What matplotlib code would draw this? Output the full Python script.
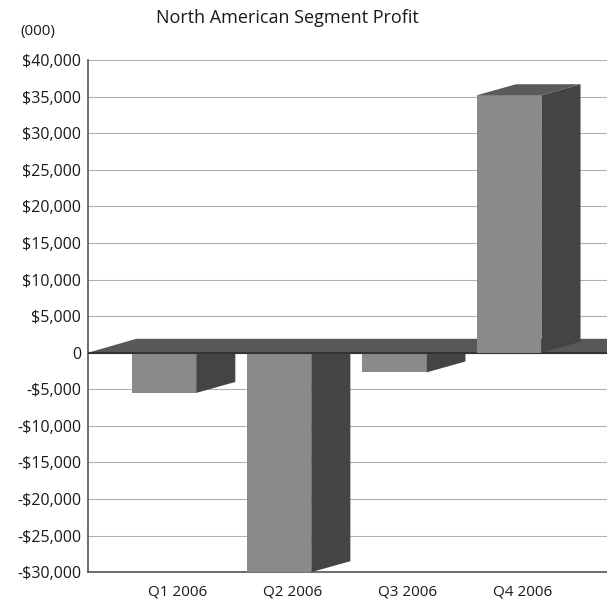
import matplotlib
matplotlib.use('Agg')
import matplotlib.pyplot as plt
from matplotlib.patches import Polygon

plt.rcParams['font.family'] = ['Open Sans', 'DejaVu Sans']

# 季度利潤 (千美元)
quarters = ['Q1 2006', 'Q2 2006', 'Q3 2006', 'Q4 2006']
profit = [-5500, -30000, -2700, 35200]
yticks = [40000, 35000, 30000, 25000, 20000, 15000, 10000, 5000, 0,
          -5000, -10000, -15000, -20000, -25000, -30000]

def money(v):
    if v == 0:
        return '0'
    s = '${:,}'.format(abs(v))
    return '-' + s if v < 0 else s

fig = plt.figure(figsize=(6.07, 6.01), dpi=100)
ax = fig.add_axes([0.145, 0.048, 0.855, 0.852])
ax.set_xlim(-0.78, 3.73)
ax.set_ylim(-30000, 40000)

# 立體效果的偏移量
dx, dy = 0.34, 1500
w, off = 0.56, -0.40
front_c, side_c, top_c = '#8a8a8a', '#444444', '#5a5a5a'

def draw_bar(i, v, z):
    x0 = i + off
    x1 = x0 + w
    ax.add_patch(Polygon([(x0, 0), (x1, 0), (x1, v), (x0, v)], closed=True,
                         fc=front_c, ec='none', zorder=z))
    ax.add_patch(Polygon([(x1, 0), (x1 + dx, dy), (x1 + dx, v + dy), (x1, v)],
                         closed=True, fc=side_c, ec='none', zorder=z))
    if v > 0:
        ax.add_patch(Polygon([(x0, v), (x0 + dx, v + dy), (x1 + dx, v + dy), (x1, v)],
                             closed=True, fc=top_c, ec='none', zorder=z))

# 負值先畫, 再畫地板, 最後正值
for i, v in enumerate(profit):
    if v < 0:
        draw_bar(i, v, 3)

fx0, fx1 = -0.78, 3.73
ax.add_patch(Polygon([(fx0, 0), (fx0 + 0.42, 1900), (fx1 + 1, 1900), (fx1 + 1, 0)],
                     closed=True, fc='#585858', ec='none', zorder=4))
ax.plot([fx0, fx1], [0, 0], color='#333333', lw=1.5, zorder=4.5)

for i, v in enumerate(profit):
    if v > 0:
        draw_bar(i, v, 5)

ax.set_yticks(yticks)
ax.set_yticklabels([money(v) for v in yticks], fontsize=11.5, color='#1a1a1a')
ax.set_xticks(range(len(quarters)))
ax.set_xticklabels(quarters, fontsize=11, color='#1a1a1a')
ax.tick_params(axis='both', length=0)
ax.tick_params(axis='x', pad=9)
ax.tick_params(axis='y', pad=5)

ax.grid(axis='y', color='#b0b0b0', lw=0.8, zorder=0)
ax.set_axisbelow(True)
for s in ['top', 'right']:
    ax.spines[s].set_visible(False)
ax.spines['left'].set_color('#555555')
ax.spines['bottom'].set_color('#555555')
ax.spines['left'].set_linewidth(1.2)
ax.spines['bottom'].set_linewidth(1.2)

fig.text(0.473, 0.97, 'North American Segment Profit', ha='center', va='center',
         fontsize=13, color='#1a1a1a')
fig.text(0.062, 0.948, '(000)', ha='center', va='center', fontsize=11, color='#1a1a1a')

fig.savefig('out.png', dpi=100, facecolor='white')
